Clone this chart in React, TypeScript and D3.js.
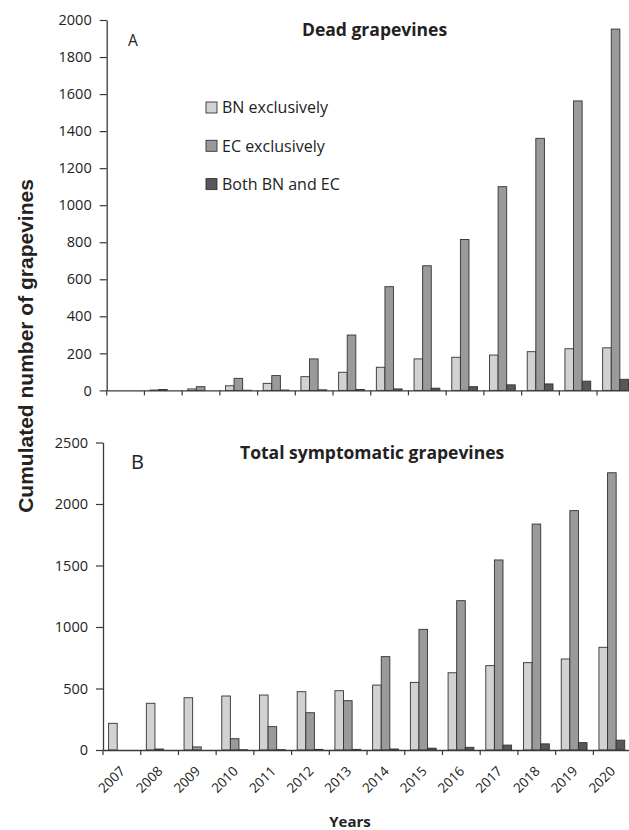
import React, { useEffect, useRef } from 'react';
import * as d3 from 'd3';

const years = ['2007', '2008', '2009', '2010', '2011', '2012', '2013', '2014', '2015', '2016', '2017', '2018', '2019', '2020'];
const seriesNames = ['BN exclusively', 'EC exclusively', 'Both BN and EC'];
const seriesColors = ['#d2d2d2', '#9a9a9c', '#58585a'];

// Panel A - dead grapevines
const deadBN = [0, 2, 8, 25, 38, 74, 98, 125, 170, 179, 191, 209, 225, 230];
const deadEC = [0, 5, 20, 65, 80, 170, 299, 560, 673, 815, 1100, 1361, 1563, 1951];
const deadBoth = [0, 0, 0, 1, 2, 3, 5, 8, 12, 20, 30, 35, 50, 60];
const deadTicks = [0, 200, 400, 600, 800, 1000, 1200, 1400, 1600, 1800, 2000];

// Panel B - total symptomatic grapevines
const totBN = [217, 380, 425, 439, 447, 474, 482, 528, 550, 628, 686, 710, 740, 835];
const totEC = [0, 8, 25, 92, 190, 303, 401, 759, 981, 1214, 1545, 1837, 1946, 2254];
const totBoth = [0, 0, 0, 2, 3, 5, 5, 8, 15, 22, 40, 50, 60, 80];
const totTicks = [0, 500, 1000, 1500, 2000, 2500];

const W = 629;
const H = 830;

const App = () => {
  const ref = useRef<HTMLDivElement>(null);

  useEffect(() => {
    d3.select(ref.current).selectAll('*').remove();

    const svg = d3.select(ref.current)
      .append('svg')
      .attr('width', W)
      .attr('height', H)
      .style('display', 'block')
      .style('background', '#fff');

    const font = '"Open Sans", Lato, sans-serif';
    const axisColor = '#3a3a3a';

    const drawPanel = (opts: {
      x0: number; y0: number; yTop: number; yMax: number;
      ticks: number[]; values: number[][]; title: string; titleX: number; titleY: number;
      letter: string; letterX: number; letterY: number; letterSize: number; yearLabels: boolean;
    }) => {
      const step = 37.72;
      const x = d3.scaleBand()
        .domain(years)
        .range([opts.x0, opts.x0 + step * years.length])
        .paddingInner(0)
        .paddingOuter(0);
      const xs = d3.scaleBand()
        .domain(['0', '1', '2'])
        .range([5.6, 5.6 + 8.6 * 3]);
      const y = d3.scaleLinear()
        .domain([0, opts.yMax])
        .range([opts.y0, opts.yTop]);

      const g = svg.append('g');

      // bars
      opts.values.forEach((vals, si) => {
        g.append('g')
          .selectAll('rect')
          .data(vals)
          .enter()
          .append('rect')
          .attr('x', (_, i) => (x(years[i]) as number) + (xs(String(si)) as number))
          .attr('y', d => y(d))
          .attr('width', xs.bandwidth())
          .attr('height', d => opts.y0 - y(d))
          .attr('fill', seriesColors[si])
          .attr('stroke', '#333')
          .attr('stroke-width', 0.9);
      });

      // y axis
      const yAxis = d3.axisLeft(y)
        .tickValues(opts.ticks)
        .tickFormat(d3.format('d'))
        .tickSize(7)
        .tickSizeOuter(0)
        .tickPadding(8);
      const ya = g.append('g').attr('transform', `translate(${opts.x0},0)`).call(yAxis);
      ya.select('.domain').attr('stroke', axisColor).attr('stroke-width', 1.3);
      ya.selectAll('.tick line').attr('stroke', axisColor).attr('stroke-width', 1.2);
      ya.selectAll('.tick text')
        .attr('fill', '#222')
        .style('font-family', font)
        .style('font-size', '14.5px');

      // x axis
      const xAxis = d3.axisBottom(x).tickSize(0).tickFormat(() => '');
      const xa = g.append('g').attr('transform', `translate(0,${opts.y0})`).call(xAxis);
      xa.select('.domain').attr('stroke', axisColor).attr('stroke-width', 1.3);
      xa.selectAll('.tick').remove();
      g.append('g')
        .selectAll('line')
        .data(years)
        .enter()
        .append('line')
        .attr('x1', d => x(d) as number)
        .attr('x2', d => x(d) as number)
        .attr('y1', opts.y0)
        .attr('y2', opts.y0 + 5)
        .attr('stroke', axisColor)
        .attr('stroke-width', 1.2);

      if (opts.yearLabels) {
        g.append('g')
          .selectAll('text')
          .data(years)
          .enter()
          .append('text')
          .attr('transform', d => `translate(${(x(d) as number) + x.bandwidth() / 2 + 4},${opts.y0 + 22}) rotate(-45)`)
          .attr('text-anchor', 'end')
          .style('font-family', font)
          .style('font-size', '13.5px')
          .attr('fill', '#222')
          .text(d => d);
      }

      // title
      svg.append('text')
        .attr('x', opts.titleX)
        .attr('y', opts.titleY)
        .style('font-family', font)
        .style('font-weight', 'bold')
        .style('font-size', '17.5px')
        .attr('fill', '#222')
        .text(opts.title);

      // panel letter
      svg.append('text')
        .attr('x', opts.letterX)
        .attr('y', opts.letterY)
        .style('font-family', font)
        .style('font-size', `${opts.letterSize}px`)
        .attr('fill', '#222')
        .text(opts.letter);
    };

    drawPanel({
      x0: 106.7, y0: 390.4, yTop: 20, yMax: 2000, ticks: deadTicks,
      values: [deadBN, deadEC, deadBoth],
      title: 'Dead grapevines', titleX: 302, titleY: 36,
      letter: 'A', letterX: 128, letterY: 46, letterSize: 15.5, yearLabels: false,
    });

    drawPanel({
      x0: 103, y0: 750, yTop: 442.5, yMax: 2500, ticks: totTicks,
      values: [totBN, totEC, totBoth],
      title: 'Total symptomatic grapevines', titleX: 240, titleY: 459,
      letter: 'B', letterX: 131, letterY: 469, letterSize: 20, yearLabels: true,
    });

    // Legend
    const legend = svg.append('g').attr('transform', 'translate(206,102)');
    seriesNames.forEach((name, i) => {
      const yPos = i * 38.3;
      legend.append('rect')
        .attr('x', 0)
        .attr('y', yPos)
        .attr('width', 11)
        .attr('height', 11)
        .attr('fill', seriesColors[i])
        .attr('stroke', '#333')
        .attr('stroke-width', 0.9);
      legend.append('text')
        .attr('x', 16)
        .attr('y', yPos + 11.3)
        .style('font-family', font)
        .style('font-size', '16px')
        .attr('fill', '#222')
        .text(name);
    });

    // Y axis label
    svg.append('text')
      .attr('transform', 'rotate(-90)')
      .attr('x', -346)
      .attr('y', 33)
      .attr('text-anchor', 'middle')
      .style('font-family', '"Liberation Sans", Arial, sans-serif')
      .style('font-weight', 'bold')
      .style('font-size', '21px')
      .attr('fill', '#222')
      .text('Cumulated number of grapevines');

    // X axis label
    svg.append('text')
      .attr('x', 350)
      .attr('y', 827)
      .attr('text-anchor', 'middle')
      .style('font-family', font)
      .style('font-weight', 'bold')
      .style('font-size', '15px')
      .attr('fill', '#222')
      .text('Years');
  }, []);

  return <div ref={ref} style={{ position: 'absolute', left: 0, top: 0 }} />;
};

export default App;
